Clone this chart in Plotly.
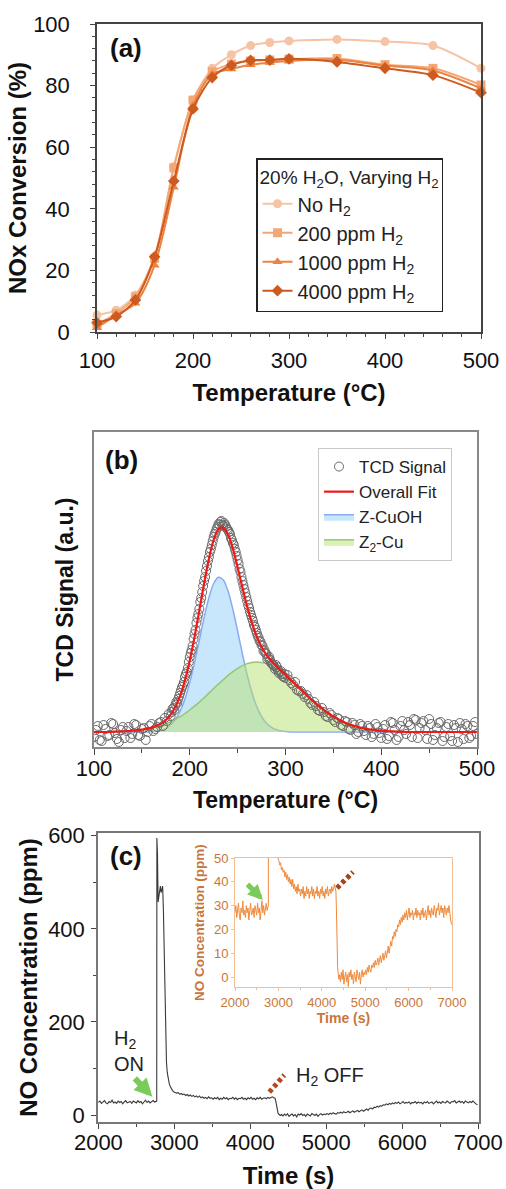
import plotly.graph_objects as go

FONT = "Liberation Sans, Arial, sans-serif"
W, H = 506, 1189

# ---------------- Panel (a) data ----------------
temp_a = [100, 120, 140, 160, 180, 200, 220, 240, 260, 280, 300, 350, 400, 450, 500]
conv_no_h2 = [5.5, 7.1, 12, 24.4, 53.7, 75.3, 85.6, 90, 93, 94, 94.5, 95, 94.3, 93, 85.6]
conv_200 = [2.5, 6, 11.4, 23.9, 53.3, 75.3, 84.5, 87, 88, 88.3, 88.6, 88.8, 86.8, 85.6, 80.2]
conv_1000 = [1.4, 5.5, 9.3, 21.7, 47, 73.5, 83.7, 85.4, 86.8, 87.5, 88, 88.4, 86.5, 84.9, 79.1]
conv_4000 = [3.0, 5, 10.4, 24.4, 49, 72.4, 82.6, 86.6, 88.2, 88.3, 88.7, 87.7, 85.6, 83.4, 77.7]
series_a = ["No H<sub>2</sub>", "200 ppm H<sub>2</sub>", "1000 ppm H<sub>2</sub>", "4000 ppm H<sub>2</sub>"]

# ---------------- Panel (b) data ----------------
temp_fit = list(range(100, 501, 5))
fit_cuoh = [0] * 12 + [0.4, 0.9, 1.8, 3.7, 7.0, 12.5, 21.0, 33.1, 49.4, 69.3, 91.7, 114.3, 134.2,
                       148.5, 154.8, 152.1, 140.8, 122.8, 100.9, 78.1, 57.0, 39.2, 25.4, 15.5, 8.9,
                       4.8, 2.5, 1.2, 0.5] + [0] * 40
fit_z2cu = [0] * 4 + [0.3, 0.5, 0.7, 0.9, 1.3, 1.7, 2.3, 3.1, 4.0, 5.2,
                      6.6, 8.3, 10.3, 12.7, 15.4, 18.5, 22.0, 25.8, 29.9, 34.2,
                      38.9, 43.5, 48.0, 52.3, 56.6, 60.4, 63.7, 66.4, 68.4, 69.6,
                      70,
                      69.6, 68.4, 66.4, 63.7, 60.4, 56.6, 52.3, 48.0, 43.5, 38.9,
                      34.2, 29.9, 25.8, 22.0, 18.5, 15.4, 12.7, 10.3, 8.3, 6.6,
                      5.2, 4.0, 3.1, 2.3, 1.7, 1.3, 0.9, 0.7, 0.5, 0.3] + [0] * 16
fit_overall = [0] * 4 + [0.3, 0.5, 0.7, 0.9, 1.3, 1.7, 2.3, 3.1] + \
    [4.4, 6.1, 8.4, 12.0, 17.3, 25.2, 36.4, 51.6, 71.4, 95.1, 121.6, 148.5, 173.1, 192.0,
     202.8, 204.4, 197.4, 183.2, 164.6, 144.5, 125.4, 108.8, 95.4, 85.1, 77.3, 71.2, 66.2,
     61.6, 57.1] + \
    [52.3, 48.0, 43.5, 38.9, 34.2, 29.9, 25.8, 22.0, 18.5, 15.4, 12.7, 10.3, 8.3, 6.6,
     5.2, 4.0, 3.1, 2.3, 1.7, 1.3, 0.9, 0.7, 0.5, 0.3] + [0] * 16

temp_tcd = (list(range(100, 170, 4)) + list(range(170, 300, 2)) + list(range(300, 501, 4))
            + list(range(102, 170, 4)) + list(range(181, 260, 2)) + list(range(261, 300, 2))
            + list(range(302, 500, 4)))
tcd_signal = [-5, 6, -9, 3, -3, 8, -7, 2, -6, 5, -2, 7, -4, 4, 0, 8, 3, 9] + \
    [10, 6, 14, 11, 18, 16, 23, 22, 30, 33, 39, 45, 50, 58, 64, 75, 82, 93, 102, 114,
     123, 134, 146, 155, 166, 175, 183, 191, 198, 203, 208, 210, 207, 209, 205, 202, 198,
     192, 187, 180, 172, 163, 155, 147, 139, 131, 124, 117, 111, 105, 99, 94, 90, 86, 82,
     78, 74, 72, 68, 66, 67, 62, 60, 58, 55] + \
    [54, 52, 47, 42, 41, 35, 33, 27, 26, 21, 20, 15, 17, 10, 13, 6, 10, 2, 7, 0, 6, -3, 4,
     -2, 5, -6, 7, -4, 9, -8, 6, 2, 10, -5, 12, 4, 11, -7, 8, -3, 9, -9, 5, -4, 7, -10, 3,
     8, -6, 6, -2] + \
    [2, -8, 7, -4, 9, -1, -10, 5, 1, -6, 8, -3, 3, -8, 6, 1, 5] + \
    [20, 24, 27, 29, 36, 42, 47, 55, 60, 70, 79, 86, 98, 109, 118, 130, 140, 151, 161, 171,
     180, 187, 195, 200, 205, 207, 211, 206, 207, 203, 200, 194, 189, 183, 176, 168, 160,
     151, 143, 135] + \
    [127, 120, 114, 107, 102, 96, 91, 87, 81, 79, 73, 75, 69, 67, 63, 65, 59, 61, 56, 58] + \
    [57, 49, 50, 41, 38, 37, 29, 30, 22, 24, 16, 19, 12, 14, 7, 11, 3, 9, -2, 8, 1, 6, -5,
     8, -1, 3, -7, 10, 2, -5, 11, -2, 7, 13, -6, 9, 2, 13, -8, 4, 10, -5, 8, -9, 4, 9, -7,
     6, -4, 10]

# ---------------- Panel (c) data ----------------
time_seg1 = list(range(2000, 2760, 20))
no_seg1 = [27, 30, 25, 28, 31, 26, 24, 29, 27, 32,
           26, 28, 25, 30, 27, 29, 24, 28, 31, 26,
           27, 29, 25, 30, 28, 26, 31, 27, 29, 24,
           28, 32, 27, 30, 26, 29, 31, 28]
time_seg2 = [2755, 2768, 2770, 2778, 2786, 2796, 2806, 2816, 2826, 2836, 2846, 2856, 2866,
             2876, 2886, 2896, 2906, 2918, 2932, 2946, 2960, 2975, 2990]
no_seg2 = [29, 30, 595, 560, 458, 470, 485, 492, 478, 488, 492, 440, 340, 240, 160, 115, 92,
           78, 68, 61, 56, 53, 50]
time_seg3 = list(range(3010, 4330, 20))
no_seg3 = [49, 47, 48, 45, 46, 44, 45, 42, 44, 41, 43, 40, 42, 39, 41, 38, 41, 37, 39, 36,
           38, 35, 39, 36, 37, 34, 37, 35, 38, 33, 36, 34, 38, 35, 37, 33, 36, 35, 38, 34,
           37, 33, 36, 35, 38, 34, 36, 33, 37, 35, 38, 34, 36, 33, 37, 35, 38, 34, 36, 37,
           35, 38, 36, 37, 39, 37]
time_seg4 = [4325, 4335, 4345, 4355, 4365, 4380, 4395]
no_seg4 = [36, 30, 18, 9, 4, 1, -1]
time_seg5 = list(range(4410, 7001, 20))
no_seg5 = [1, -2, 2, -1, 3, -3, 0, 2, -2, 1, -4, 2, 0, 3, -1, 1, -3, 2, 0, -2,
           3, 1, -1, 2, -3, 1, 3, 0, 2, 1,
           3, 1, 4, 2, 5, 3, 2, 5, 4, 6, 4, 7, 5, 6, 8, 5, 7, 9, 6, 8, 10, 7, 9, 11, 8,
           11, 13, 10, 14, 15, 13, 17, 16, 19, 17, 20, 19, 22, 21, 24, 22, 25, 23, 26, 24,
           27, 25, 28, 24, 26, 29, 25, 27, 26, 28, 24, 27, 26, 29, 25, 28, 26, 27, 24, 28,
           26, 29, 25, 27, 28, 24, 27, 30, 26, 28, 25, 29, 27, 26, 30, 27, 25, 29, 28, 31,
           26, 28, 30, 27, 29, 25, 30, 28, 26, 29, 27, 30, 26, 24, 22]
time_s = time_seg1 + time_seg2 + time_seg3 + time_seg4 + time_seg5
no_ppm = no_seg1 + no_seg2 + no_seg3 + no_seg4 + no_seg5

# ---------------- Figure ----------------
fig = go.Figure()

colors_a = ["#F6C4A4", "#F3A676", "#EE8240", "#CD5A1E"]
symbols_a = ["circle", "square", "triangle-up", "diamond"]
for name, vals, col, sym in zip(series_a, [conv_no_h2, conv_200, conv_1000, conv_4000], colors_a, symbols_a):
    fig.add_trace(go.Scatter(
        x=temp_a, y=vals, name=name, mode="lines+markers",
        line=dict(color=col, width=2, shape="spline", smoothing=0.8),
        marker=dict(symbol=sym, size=9, color=col),
        cliponaxis=False, xaxis="x", yaxis="y", legend="legend"))

# panel (b)
fig.add_trace(go.Scatter(x=temp_fit, y=fit_cuoh, name="Z-CuOH", mode="lines", fill="tozeroy",
                         fillcolor="rgba(155,212,250,0.55)", line=dict(color="#8AAAF2", width=1.5, shape="spline"),
                         xaxis="x2", yaxis="y2", legend="legend2", legendrank=3))
fig.add_trace(go.Scatter(x=temp_fit, y=fit_z2cu, name="Z<sub>2</sub>-Cu", mode="lines", fill="tozeroy",
                         fillcolor="rgba(184,226,110,0.5)", line=dict(color="#94C674", width=1.5, shape="spline"),
                         xaxis="x2", yaxis="y2", legend="legend2", legendrank=4))
fig.add_trace(go.Scatter(x=temp_tcd, y=tcd_signal, name="TCD Signal", mode="markers",
                         marker=dict(symbol="circle-open", size=9, color="#6a6a6a", line=dict(width=1)),
                         xaxis="x2", yaxis="y2", legend="legend2", legendrank=1))
fig.add_trace(go.Scatter(x=temp_fit, y=fit_overall, name="Overall Fit", mode="lines",
                         line=dict(color="#F01818", width=2.2, shape="spline"),
                         xaxis="x2", yaxis="y2", legend="legend2", legendrank=2))

# panel (c)
fig.add_trace(go.Scatter(x=time_s, y=no_ppm, mode="lines", line=dict(color="#3a3a3a", width=1.1),
                         showlegend=False, xaxis="x3", yaxis="y3"))
fig.add_trace(go.Scatter(x=time_s, y=no_ppm, mode="lines", line=dict(color="#F08A3C", width=1),
                         showlegend=False, xaxis="x4", yaxis="y4"))

def py(p):
    return 1 - p / H

def px(p):
    return p / W

axis_common = dict(showline=True, mirror=True, showgrid=False, zeroline=False, automargin=False,
                   ticks="outside", tickfont=dict(family=FONT, size=22, color="#111"))

fig.update_layout(
    template="none",
    width=W, height=H, margin=dict(l=0, r=0, t=0, b=0, pad=0, autoexpand=False),
    paper_bgcolor="white", plot_bgcolor="white",
    font=dict(family=FONT, color="#111"),
    xaxis=dict(**axis_common, domain=[px(97), px(481)], range=[100, 500], dtick=100,
               linecolor="#444", linewidth=1.5, ticklen=5, ticklabelstandoff=3,
               minor=dict(dtick=20, ticks="outside", ticklen=3),
               title=dict(text="<b>Temperature (°C)</b>", font=dict(size=24), standoff=12),
               anchor="y"),
    yaxis=dict(**axis_common, domain=[py(332), py(24)], range=[0, 100], dtick=20,
               linecolor="#444", linewidth=1.5, ticklen=5, ticklabelstandoff=16,
               minor=dict(dtick=4, ticks="outside", ticklen=3),
               title=dict(text="<b>NOx Conversion (%)</b>", font=dict(size=24), standoff=0),
               anchor="x"),
    xaxis2=dict(**axis_common, domain=[px(94), px(477)], range=[100, 500], dtick=100,
                linecolor="#888", linewidth=1.5, ticklen=6, ticklabelstandoff=-5,
                minor=dict(dtick=50, ticks="outside", ticklen=4),
                title=dict(text="<b>Temperature (°C)</b>", font=dict(size=23), standoff=12),
                anchor="y2"),
    yaxis2=dict(showline=True, mirror=True, showgrid=False, zeroline=False, ticks="",
                automargin=False, showticklabels=False, domain=[py(747), py(432)], range=[-15, 300],
                linecolor="#888", linewidth=1.5,
                title=dict(text="<b>TCD Signal (a.u.)</b>", font=dict(size=23), standoff=12),
                anchor="x2"),
    xaxis3=dict(**axis_common, domain=[px(98), px(479)], range=[1995, 7010], dtick=1000,
                linecolor="#777", linewidth=1.5, ticklen=5, ticklabelstandoff=-5,
                minor=dict(dtick=500, ticks="outside", ticklen=3),
                title=dict(text="<b>Time (s)</b>", font=dict(size=24), standoff=16),
                anchor="y3"),
    yaxis3=dict(**axis_common, domain=[py(1122), py(833)], range=[-15, 606], dtick=200,
                linecolor="#777", linewidth=1.5, ticklen=5, ticklabelstandoff=2,
                minor=dict(dtick=100, ticks="outside", ticklen=3),
                title=dict(text="<b>NO Concentration (ppm)</b>", font=dict(size=24), standoff=4),
                anchor="x3"),
    xaxis4=dict(showline=True, mirror=True, showgrid=False, zeroline=False, ticks="outside",
                automargin=False, domain=[px(235), px(452)], range=[2000, 7000], dtick=1000,
                linecolor="#F2BE94", linewidth=1, ticklen=3, tickcolor="#F2BE94",
                tickfont=dict(family=FONT, size=13, color="#C8763A"),
                minor=dict(dtick=500, ticks="outside", ticklen=2, tickcolor="#F2BE94"),
                title=dict(text="<b>Time (s)</b>", font=dict(size=14, color="#C8763A"), standoff=4),
                anchor="y4"),
    yaxis4=dict(showline=True, mirror=True, showgrid=False, zeroline=False, ticks="outside",
                automargin=False, domain=[py(987), py(858)], range=[-4.2, 50], dtick=10,
                linecolor="#F2BE94", linewidth=1, ticklen=3, tickcolor="#F2BE94",
                tickfont=dict(family=FONT, size=13, color="#C8763A"),
                title=dict(text="<b>NO Concentration (ppm)</b>", font=dict(size=13.5, color="#C8763A"), standoff=6),
                anchor="x4"),
    legend=dict(x=px(256), y=py(158), xanchor="left", yanchor="top",
                bordercolor="#222", borderwidth=1.5, bgcolor="white",
                font=dict(family=FONT, size=20, color="#222"),
                title=dict(text="20% H<sub>2</sub>O, Varying H<sub>2</sub>", font=dict(size=19)),
                tracegroupgap=0, itemwidth=30),
    legend2=dict(x=px(318), y=py(448), xanchor="left", yanchor="top",
                 bordercolor="#c8c8c8", borderwidth=1, bgcolor="white",
                 font=dict(family=FONT, size=17, color="#222"), tracegroupgap=0, itemwidth=30),
)

# panel labels
for txt, xx, yy in [("(a)", 108, 48), ("(b)", 103, 460), ("(c)", 108, 856)]:
    fig.add_annotation(text="<b>" + txt + "</b>", x=px(xx), y=py(yy), xref="paper", yref="paper",
                       xanchor="left", yanchor="middle", showarrow=False,
                       font=dict(family=FONT, size=26, color="#111"))

# panel (c) annotations
fig.add_annotation(text="H<sub>2</sub><br>ON", x=2184, y=137, xref="x3", yref="y3",
                   xanchor="left", yanchor="middle", align="left", showarrow=False,
                   font=dict(family=FONT, size=20, color="#222"))
fig.add_annotation(text="H<sub>2</sub> OFF", x=4579, y=82, xref="x3", yref="y3",
                   xanchor="left", yanchor="middle", showarrow=False,
                   font=dict(family=FONT, size=20, color="#222"))
fig.add_annotation(x=2711, y=39, xref="x3", yref="y3", ax=-19, ay=-20, text="",
                   showarrow=True, arrowhead=2, arrowsize=0.6, arrowwidth=6, arrowcolor="#7ACB5A")
fig.add_annotation(x=2645, y=32.4, xref="x4", yref="y4", ax=-17, ay=-17, text="",
                   showarrow=True, arrowhead=2, arrowsize=0.6, arrowwidth=5, arrowcolor="#7ACB5A")
fig.add_shape(type="line", x0=4250, y0=49, x1=4447, y1=86, xref="x3", yref="y3",
              line=dict(color="#B8451F", width=5, dash="4px,3px"))
fig.add_shape(type="line", x0=4350, y0=37.4, x1=4719, y1=44.1, xref="x4", yref="y4",
              line=dict(color="#A8401A", width=5, dash="4px,3px"))

fig.write_html("out.html", config={"displayModeBar": False},
               post_script="document.body.style.margin='0px';document.body.style.overflow='hidden';")
